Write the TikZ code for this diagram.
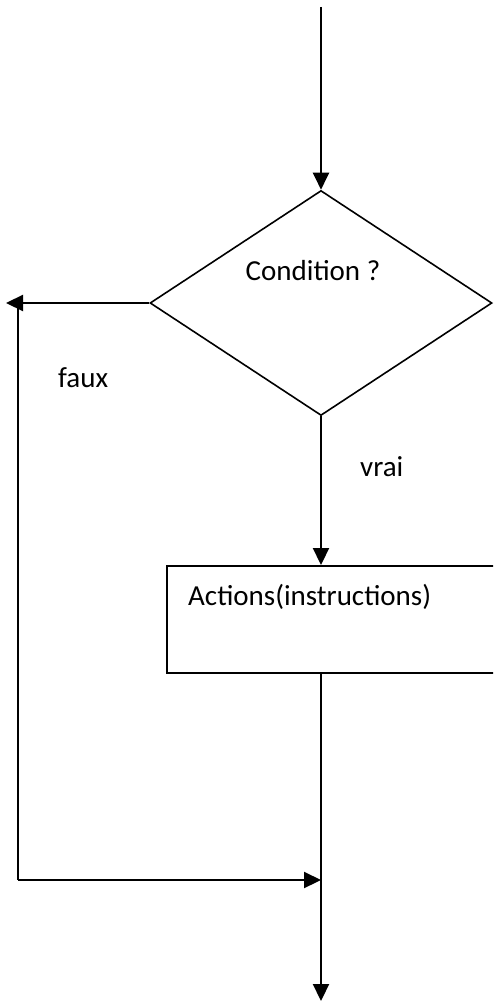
\documentclass[tikz,border=0pt]{standalone}
\usepackage{fontspec}
\setmainfont{Carlito}
\usetikzlibrary{shapes.geometric,arrows.meta,positioning}
\begin{document}
\begin{tikzpicture}[x=1pt,y=-1pt,
    fleche/.style={line width=2.2pt,-{Triangle[length=17pt,width=16pt]}},
    trait/.style={line width=2.2pt},
    texte/.style={font=\fontsize{29}{34}\selectfont,inner sep=0pt}]

    \useasboundingbox (0,0) rectangle (493,1003);
    \clip (0,0) rectangle (493,1003);

    % test et bloc d'actions
    \node at (321,303) [draw,diamond,line width=1.6pt,minimum width=342pt,minimum height=225pt,inner sep=0pt] (test) {};
    \node at (337,619.5) [draw,line width=2pt,minimum width=340pt,minimum height=107pt] (bloc) {};

    \node at (313,280) [texte,anchor=base] (cond) {Condition ?};
    \node at (188,605) [texte,anchor=base west] (actions) {Actions(instructions)};
    \node at (58,387) [texte,anchor=base west] (faux) {faux};
    \node at (360,476) [texte,anchor=base west] (vrai) {vrai};

    \coordinate (debut) at (321,7);
    \coordinate (fin) at (321,1001);
    \coordinate (gauche) at (6,303);
    \coordinate (coinh) at (18,303);
    \coordinate (coinb) at (18,880);

    \draw[fleche] (debut) -- (test.north);
    \draw[fleche] (test.south) -- (test.south |- bloc.north);
    \draw[fleche] (test.south |- bloc.south) -- (fin);
    \draw[fleche] (test.west) -- (gauche);
    \draw[trait] (coinh) -- (coinb);
    \draw[fleche] (coinb) -- (coinb -| test.south);

\end{tikzpicture}
\end{document}
